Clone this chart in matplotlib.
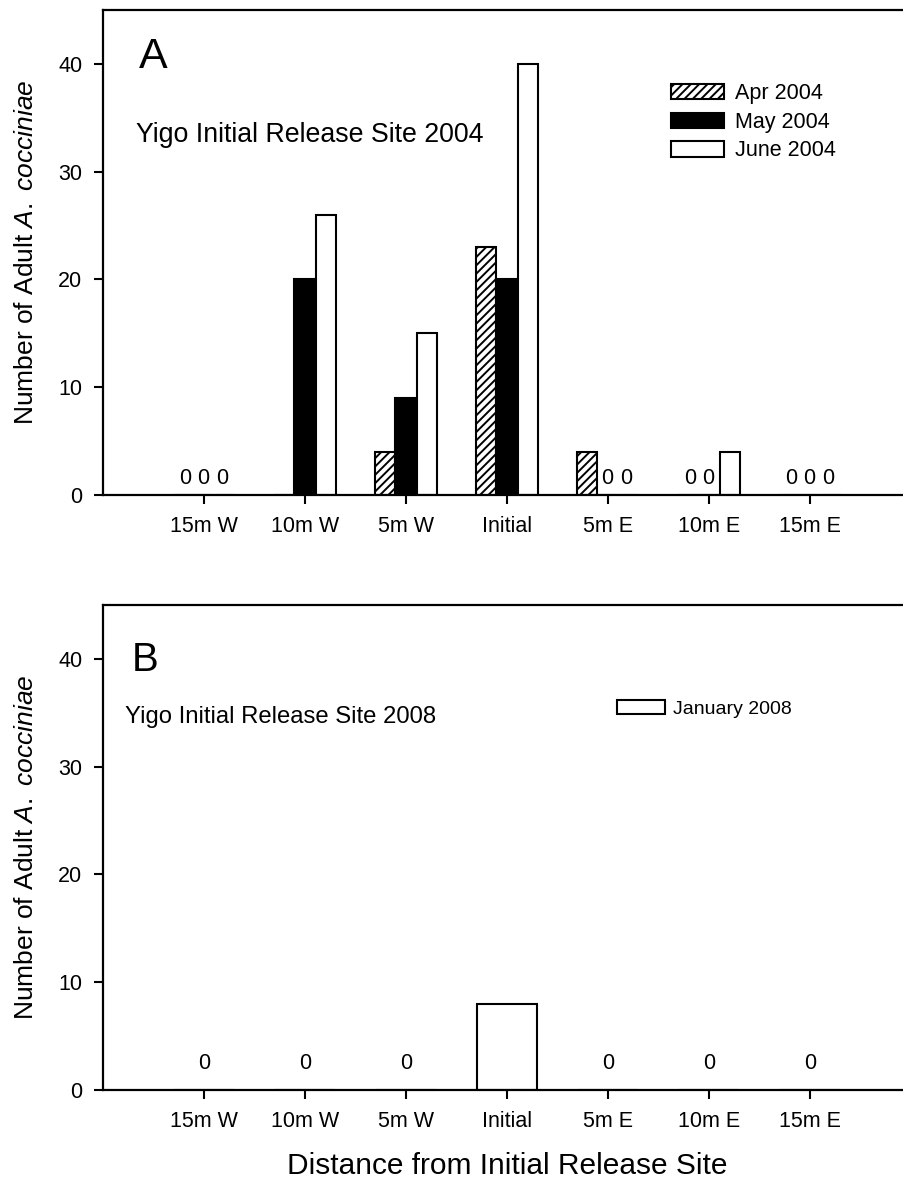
import matplotlib
matplotlib.use("Agg")
import matplotlib.pyplot as plt
import numpy as np

plt.rcParams['font.family'] = ['Liberation Sans', 'DejaVu Sans']
plt.rcParams['mathtext.fontset'] = 'custom'
plt.rcParams['mathtext.rm'] = 'Liberation Sans'
plt.rcParams['mathtext.it'] = 'Liberation Sans:italic'
plt.rcParams['hatch.linewidth'] = 1.4

# ---------------- data ----------------
categories = ["15m W", "10m W", "5m W", "Initial", "5m E", "10m E", "15m E"]
apr_2004 = [0, 0, 4, 23, 4, 0, 0]
may_2004 = [0, 20, 9, 20, 0, 0, 0]
june_2004 = [0, 26, 15, 40, 0, 4, 0]
jan_2008 = [0, 0, 0, 8, 0, 0, 0]

# zero annotations written on the chart
apr_zero_labels = ["0", "", "", "", "", "0", "0"]
may_zero_labels = ["0", "", "", "", "0", "0", "0"]
june_zero_labels = ["0", "", "", "", "0", "", "0"]
jan_zero_labels = ["0", "0", "0", "", "0", "0", "0"]

series_A_names = ["Apr 2004", "May 2004", "June 2004"]
series_B_name = "January 2008"
yticks = [0, 10, 20, 30, 40]

# ---------------- figure ----------------
W, H = 904, 1184
fig = plt.figure(figsize=(W / 100, H / 100), dpi=100)

def axrect(left, right, top, bottom):
    return [left / W, 1 - bottom / H, (right - left) / W, (bottom - top) / H]

axA = fig.add_axes(axrect(103, 911, 10, 495))
axB = fig.add_axes(axrect(103, 911, 605, 1090))

x = np.arange(len(categories))
bw = 0.2
offsets = [-0.205, -0.005, 0.21]
txt_off = [-0.19, -0.005, 0.18]
lw = 1.5
TICK_FS = 15.5

def style(ax):
    ax.set_xlim(-1, 7)
    ax.set_ylim(0, 45)
    ax.set_xticks(x)
    ax.set_xticklabels(categories, fontsize=TICK_FS)
    ax.set_yticks(yticks)
    ax.set_yticklabels([str(v) for v in yticks], fontsize=TICK_FS)
    for s in ax.spines.values():
        s.set_linewidth(1.6)
    ax.tick_params(direction='out', length=6.5, width=1.5, pad=8.5)
    ax.set_ylabel(r"Number of Adult $\mathit{A.\ cocciniae}$", fontsize=19)
    ax.yaxis.set_label_coords(-0.081, 0.5)

# ---------- Panel A ----------
bA1 = axA.bar(x + offsets[0], apr_2004, bw, facecolor='white', edgecolor='black',
              hatch='////', linewidth=lw, label=series_A_names[0])
bA2 = axA.bar(x + offsets[1], may_2004, bw, facecolor='black', edgecolor='black',
              linewidth=lw, label=series_A_names[1])
bA3 = axA.bar(x + offsets[2], june_2004, bw, facecolor='white', edgecolor='black',
              linewidth=lw, label=series_A_names[2])
for labels, off in zip([apr_zero_labels, may_zero_labels, june_zero_labels], txt_off):
    for i, t in enumerate(labels):
        if t:
            axA.text(x[i] + off, 1.5, t, ha='center', va='center', fontsize=TICK_FS)
style(axA)
axA.text(139 / W, 1 - 57 / H, "A", transform=fig.transFigure, fontsize=31,
         ha='left', va='center')
axA.text(136 / W, 1 - 135 / H, "Yigo Initial Release Site 2004", transform=fig.transFigure,
         fontsize=19.3, ha='left', va='center')
legA = axA.legend(handles=[bA1, bA2, bA3], loc='upper left',
                  bbox_to_anchor=(671 / W, 1 - 83 / H), bbox_transform=fig.transFigure,
                  frameon=False, fontsize=15.5, handlelength=2.45, handleheight=0.72,
                  handletextpad=0.5, labelspacing=0.36, borderpad=0, borderaxespad=0)

# ---------- Panel B ----------
bB = axB.bar(x, jan_2008, 0.6, facecolor='white', edgecolor='black', linewidth=lw,
             label=series_B_name)
for i, t in enumerate(jan_zero_labels):
    if t:
        axB.text(x[i], 2.5, t, ha='center', va='center', fontsize=TICK_FS)
style(axB)
axB.text(132 / W, 1 - 660 / H, "B", transform=fig.transFigure, fontsize=29,
         ha='left', va='center')
axB.text(125 / W, 1 - 717 / H, "Yigo Initial Release Site 2008", transform=fig.transFigure,
         fontsize=17.2, ha='left', va='center')
axB.legend(handles=[bB], loc='upper left',
           bbox_to_anchor=(617 / W, 1 - 700 / H), bbox_transform=fig.transFigure,
           frameon=False, fontsize=14, handlelength=2.45, handleheight=0.72,
           handletextpad=0.45, borderpad=0, borderaxespad=0)
axB.set_xlabel("Distance from Initial Release Site", fontsize=21.5)
axB.xaxis.set_label_coords(0.5, -0.128)

fig.savefig("out.png", dpi=100)
